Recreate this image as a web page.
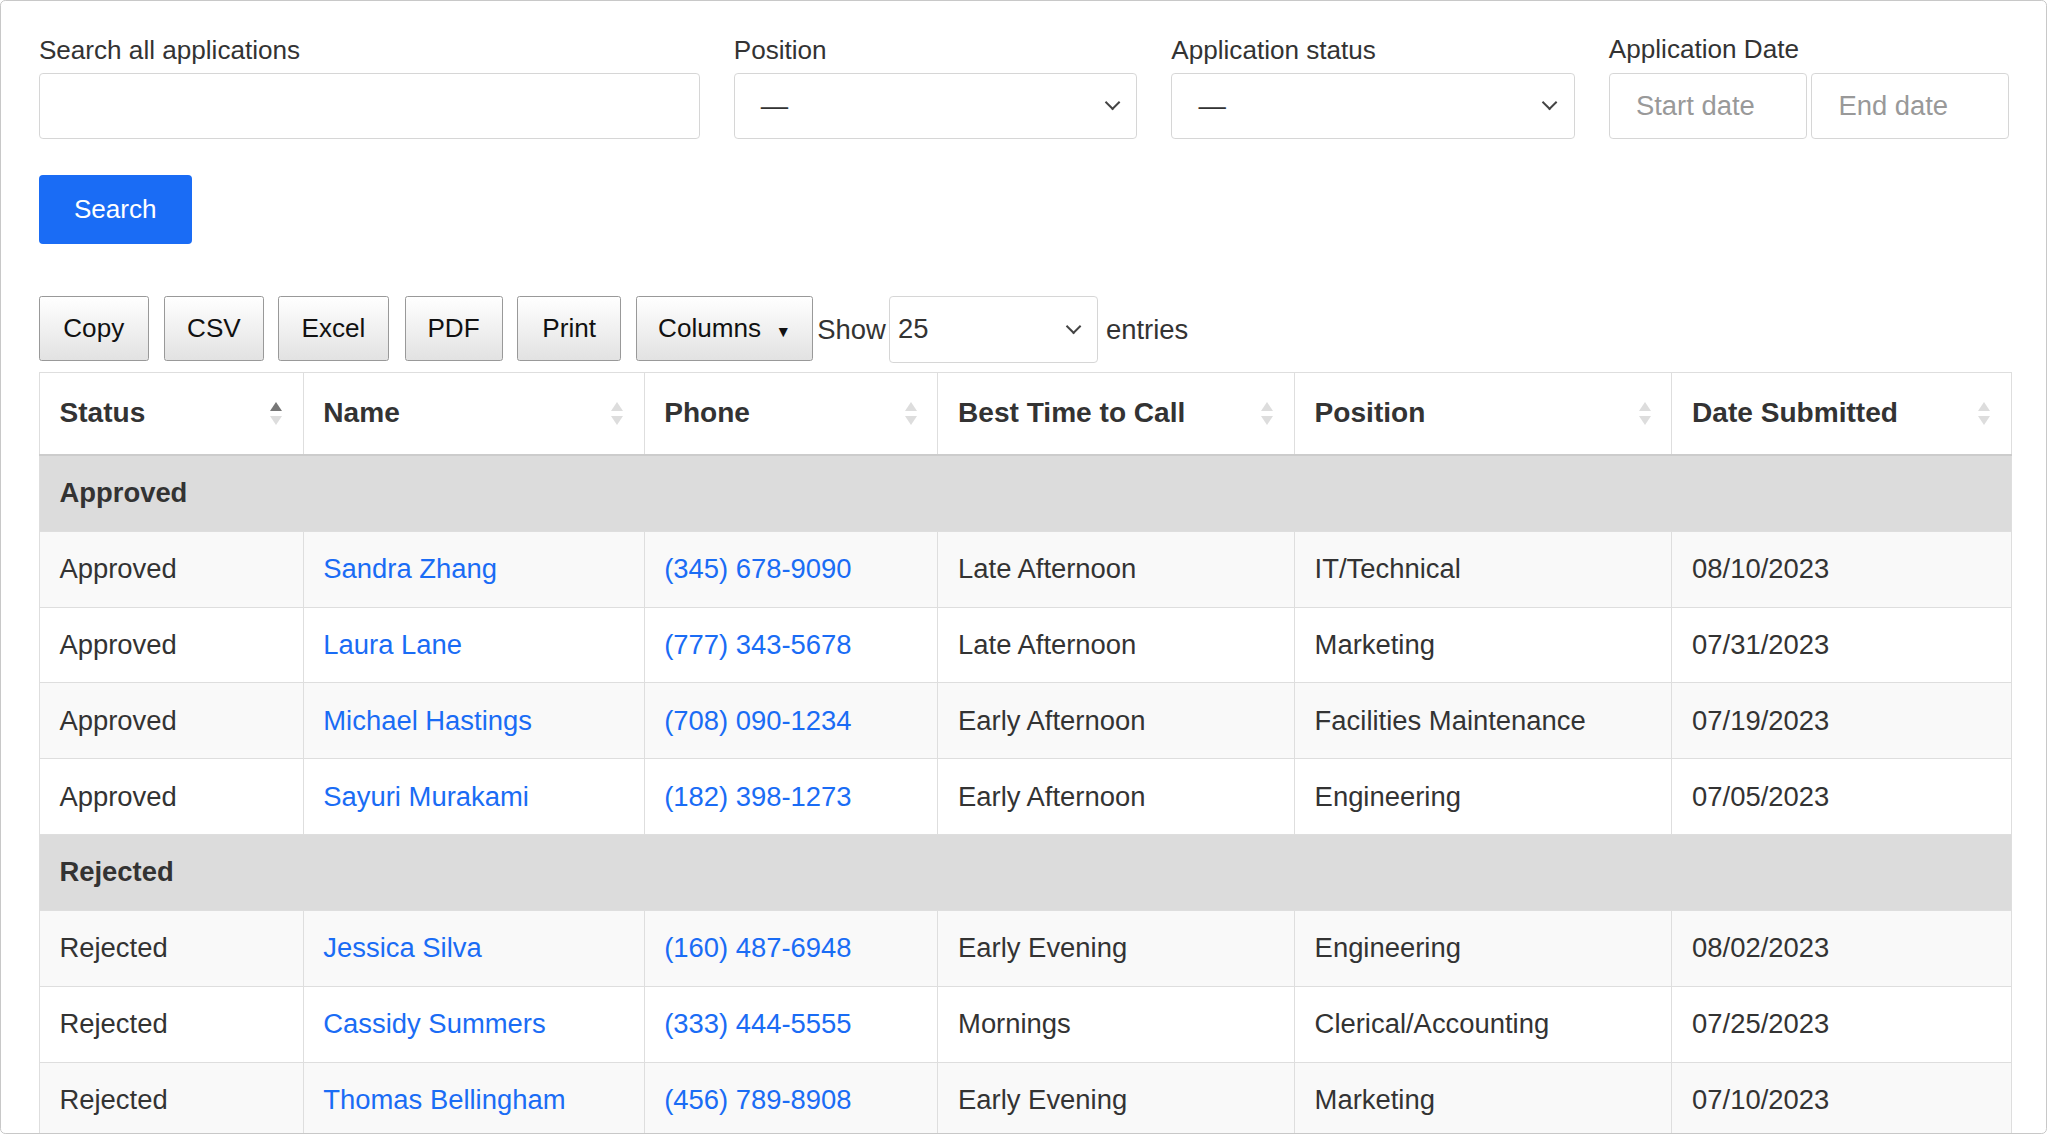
<!DOCTYPE html>
<html><head><meta charset="utf-8">
<script src="https://cdn.jsdelivr.net/npm/chart.js"></script>
<style>
html,body{margin:0;padding:0;background:#fff}
body{zoom:1.30612;font-family:"Helvetica Neue",Arial,"Liberation Sans",sans-serif;color:#333}
#page{position:relative;width:1566px;height:867px;border:1px solid #c8c8c8;border-radius:4px;overflow:hidden}
.lab{position:absolute;top:26px;font-size:20px;color:#333}
.inp{position:absolute;top:55px;height:51px;border:1px solid #d6d6d6;border-radius:3px;box-sizing:border-box;font-size:21px;color:#999;padding:12px 20px}
.sel:after{content:"";position:absolute;right:14px;top:18px;width:7px;height:7px;border-right:2px solid #444;border-bottom:2px solid #444;transform:rotate(45deg)}
.dash{color:#333}
#search{position:absolute;left:29px;top:133px;width:117px;height:53px;background:#1a6cf5;color:#fff;border-radius:3px;font-size:20px;text-align:center;line-height:53px}
.btn{position:absolute;top:226px;height:50px;box-sizing:border-box;border:1px solid #999;border-radius:2px;background:linear-gradient(#fff,#e2e2e2);font-size:20px;text-align:center;line-height:48px;color:#111}
table{position:absolute;left:29px;top:284px;border-collapse:collapse;font-size:21px;table-layout:fixed;width:1510px}
td,th{border:1px solid #dedede;padding:0 15px;text-align:left;height:57.3px}
th{font-size:21.5px;font-weight:bold;color:#333;height:62px;border-bottom:2px solid #ccc;position:relative}
th:after{content:"";position:absolute;right:16px;top:22px;border-left:5px solid transparent;border-right:5px solid transparent;border-bottom:7px solid #ddd}
th:before{content:"";position:absolute;right:16px;top:33px;border-left:5px solid transparent;border-right:5px solid transparent;border-top:7px solid #ddd}
th.s:after{border-bottom-color:#777}
tr.g td{background:#dcdcdc;font-weight:bold;color:#333}
tr.o td{background:#f9f9f9}
a{color:#1a6cf5;text-decoration:none}
</style></head><body>
<div id="page"></div>
<script>
const columns=["Status","Name","Phone","Best Time to Call","Position","Date Submitted"];
const colWidths=[202,261,225,273,289,260];
const groups=["Approved","Rejected"];
const statuses=["Approved","Approved","Approved","Approved","Rejected","Rejected","Rejected"];
const names=["Sandra Zhang","Laura Lane","Michael Hastings","Sayuri Murakami","Jessica Silva","Cassidy Summers","Thomas Bellingham"];
const phones=["(345) 678-9090","(777) 343-5678","(708) 090-1234","(182) 398-1273","(160) 487-6948","(333) 444-5555","(456) 789-8908"];
const times=["Late Afternoon","Late Afternoon","Early Afternoon","Early Afternoon","Early Evening","Mornings","Early Evening"];
const positions=["IT/Technical","Marketing","Facilities Maintenance","Engineering","Engineering","Clerical/Accounting","Marketing"];
const dates=["08/10/2023","07/31/2023","07/19/2023","07/05/2023","08/02/2023","07/25/2023","07/10/2023"];
const buttons=[["Copy",29,84],["CSV",125,76],["Excel",212,85],["PDF",309,75],["Print",395,80],["Columns&nbsp;&nbsp;<span style='font-size:12px'>\u25BC</span>",486,136]];

let h='';
h+='<div class="lab" style="left:29px">Search all applications</div><div class="inp" style="left:29px;width:506px"></div>';
h+='<div class="lab" style="left:561px">Position</div><div class="inp sel" style="left:561px;width:309px"><span class="dash">\u2014</span></div>';
h+='<div class="lab" style="left:896px">Application status</div><div class="inp sel" style="left:896px;width:309px"><span class="dash">\u2014</span></div>';
h+='<div class="lab" style="left:1231px;top:25px">Application Date</div><div class="inp" style="left:1231px;width:152px">Start date</div><div class="inp" style="left:1386px;width:151px">End date</div>';
h+='<div id="search">Search</div>';
buttons.forEach(b=>{h+=`<div class="btn" style="left:${b[1]}px;width:${b[2]}px">${b[0]}</div>`});
h+='<div style="position:absolute;left:625px;top:240px;font-size:21px">Show</div>';
h+='<div class="inp sel" style="left:680px;top:226px;width:160px;color:#333;padding:12px 6px">25</div>';
h+='<div style="position:absolute;left:846px;top:240px;font-size:21px">entries</div>';
h+='<table><colgroup>'+colWidths.map(w=>`<col style="width:${w}px">`).join('')+'</colgroup><tr>'+columns.map((c,i)=>`<th class="${i==0?'s':''}">${c}</th>`).join('')+'</tr>';
groups.forEach(g=>{
  h+=`<tr class="g"><td colspan="6">${g}</td></tr>`;
  let k=0;
  statuses.forEach((s,i)=>{ if(s!==g)return;
    h+=`<tr class="${k%2==0?'o':''}"><td>${s}</td><td><a>${names[i]}</a></td><td><a>${phones[i]}</a></td><td>${times[i]}</td><td>${positions[i]}</td><td>${dates[i]}</td></tr>`;k++;});
});
h+='</table>';
document.getElementById('page').innerHTML=h;
</script>
</body></html>
